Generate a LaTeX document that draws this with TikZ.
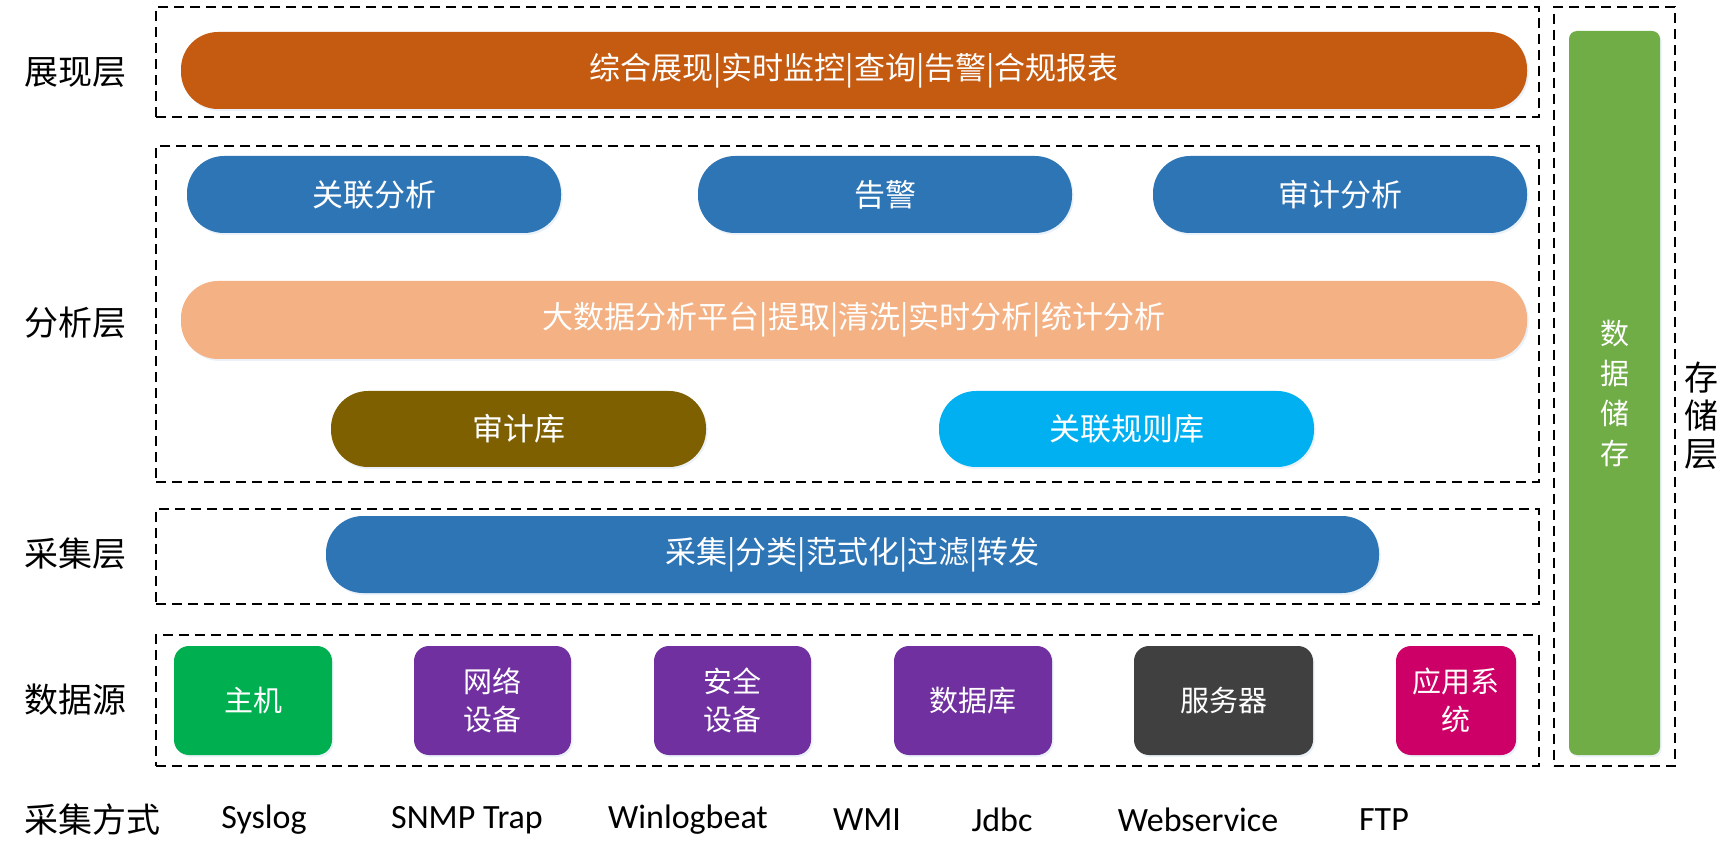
\documentclass[tikz,border=0pt]{standalone}
\usepackage{fontspec}
\setmainfont{Carlito}
\newfontfamily\cjk{Noto Sans CJK SC}
\usetikzlibrary{shadows}
\definecolor{cOrange}{HTML}{C55A11}
\definecolor{cBlue}{HTML}{2E75B6}
\definecolor{cPeach}{HTML}{F4B183}
\definecolor{cOlive}{HTML}{7F6000}
\definecolor{cCyan}{HTML}{00B0F0}
\definecolor{cGreen}{HTML}{00B050}
\definecolor{cPurple}{HTML}{7030A0}
\definecolor{cDark}{HTML}{404040}
\definecolor{cMagenta}{HTML}{CC0066}
\definecolor{cStore}{HTML}{70AD47}
\begin{document}
\begin{tikzpicture}[x=0.5pt,y=-0.5pt,
  layerbox/.style={draw=black,line width=0.8pt,dash pattern=on 5pt off 3pt,inner sep=0pt},
  softshadow/.style={drop shadow={opacity=0.25,shadow xshift=0.8pt,shadow yshift=-1pt,fill=cBlue!40}},
  pill/.style={softshadow,rounded corners=18.5pt,inner sep=0pt,minimum height=38.5pt,
    text=white,font=\cjk\fontsize{15.5}{18}\selectfont},
  srcbox/.style={softshadow,rounded corners=7.5pt,inner sep=0pt,minimum height=54.5pt,
    text=white,align=center,font=\cjk\fontsize{14.5}{19}\selectfont},
  layerlabel/.style={anchor=west,inner sep=0pt,font=\cjk\fontsize{17}{19}\selectfont},
  method/.style={inner sep=0pt,font=\fontsize{17}{20}\selectfont}]
\useasboundingbox (0,0) rectangle (1726,850);

% layer frames
\node[layerbox,minimum width=691.5pt,minimum height=55pt]  (bshow) at (847.5,62) {};
\node[layerbox,minimum width=691.5pt,minimum height=168pt] (bana)  at (847.5,314) {};
\node[layerbox,minimum width=691.5pt,minimum height=47.5pt](bcol)  at (847.5,556.5) {};
\node[layerbox,minimum width=691.5pt,minimum height=65.5pt](bsrc)  at (847.5,700.5) {};
\node[layerbox,minimum width=60.5pt,minimum height=379.5pt](bsto)  at (1614.5,386.5) {};

% presentation layer
\node[pill,fill=cOrange,minimum width=673pt] (pshow) at (854,70.5) {综合展现|实时监控|查询|告警|合规报表};

% analysis layer
\node[pill,fill=cBlue,minimum width=187pt] (pcorr)  at (374,194.5) {关联分析};
\node[pill,fill=cBlue,minimum width=187pt] (palarm) at (885,194.5) {告警};
\node[pill,fill=cBlue,minimum width=187pt] (paudit) at (1340,194.5) {审计分析};
\node[pill,fill=cPeach,minimum width=673pt,minimum height=39pt] (pbig) at (854,320) {大数据分析平台|提取|清洗|实时分析|统计分析};
\node[pill,fill=cOlive,minimum width=187.5pt,minimum height=38pt] (pauditdb) at (518.5,429) {审计库};
\node[pill,fill=cCyan,minimum width=187.5pt,minimum height=38pt]  (prule)    at (1126.5,429) {关联规则库};

% collection layer
\node[pill,fill=cBlue,minimum width=526.5pt] (pcol) at (852.5,554.5) {采集|分类|范式化|过滤|转发};

% data sources
\node[srcbox,fill=cGreen,minimum width=79pt]    (shost) at (253,700.5) {主机};
\node[srcbox,fill=cPurple,minimum width=78.5pt] (snet)  at (492.5,700.5) {网络\\设备};
\node[srcbox,fill=cPurple,minimum width=78.5pt] (ssec)  at (732.5,700.5) {安全\\设备};
\node[srcbox,fill=cPurple,minimum width=79pt]   (sdb)   at (973,700.5) {数据库};
\node[srcbox,fill=cDark,minimum width=89.5pt]   (ssrv)  at (1223.5,700.5) {服务器};
\node[srcbox,fill=cMagenta,minimum width=60pt]  (sapp)  at (1456,700.5) {应用系\\统};

% storage
\node[softshadow,fill=cStore,rounded corners=4pt,inner sep=0pt,minimum width=45.5pt,minimum height=362pt,
  text=white,align=center,font=\cjk\fontsize{14.5}{20}\selectfont] (pstore) at (1614.5,393) {数\\据\\储\\存};

% layer labels
\node[layerlabel] (lshow) at (24,73)  {展现层};
\node[layerlabel] (lana)  at (24,323) {分析层};
\node[layerlabel] (lcol)  at (24,554) {采集层};
\node[layerlabel] (lsrc)  at (24,700) {数据源};
\node[layerlabel] (lway)  at (24,820) {采集方式};
\node[inner sep=0pt,align=center,font=\cjk\fontsize{17}{19}\selectfont] (lsto) at (1701,416) {存\\储\\层};

% collection methods
\node[method] (m1) at (264,820)  {Syslog};
\node[method] (m2) at (467,820)  {SNMP Trap};
\node[method] (m3) at (688,820)  {Winlogbeat};
\node[method] (m4) at (867,820)  {WMI};
\node[method] (m5) at (1002,820) {Jdbc};
\node[method] (m6) at (1198,820) {Webservice};
\node[method] (m7) at (1384,820) {FTP};
\end{tikzpicture}
\end{document}
